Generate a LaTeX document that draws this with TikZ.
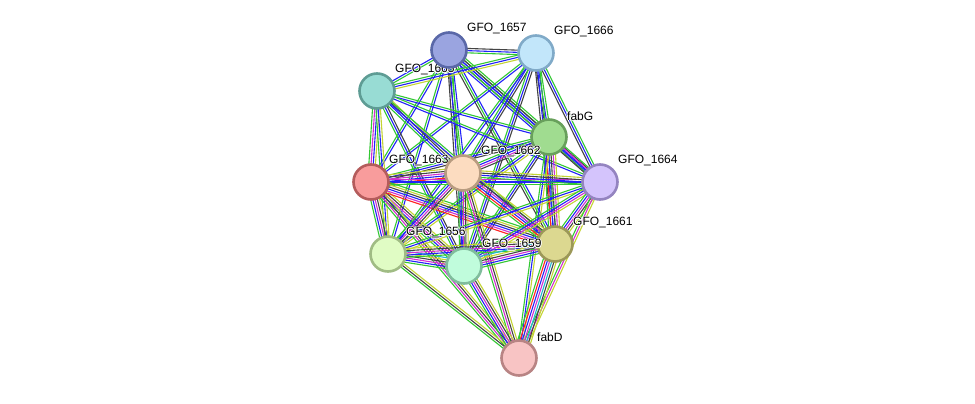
\documentclass[tikz,border=0pt]{standalone}
\usepackage{fontspec}
\setmainfont{Liberation Sans}
\usetikzlibrary{calc}

% evidence-channel colours
\definecolor{gn}{HTML}{33C833}
\definecolor{bl}{HTML}{2222F8}
\definecolor{gy}{HTML}{444444}
\definecolor{mg}{HTML}{D030D0}
\definecolor{yg}{HTML}{C4D434}
\definecolor{rd}{HTML}{FF2222}
\definecolor{cy}{HTML}{22B8D0}

\pgfdeclarelayer{bg}
\pgfdeclarelayer{edges}
\pgfsetlayers{bg,edges,main}

\tikzset{
  protein/.style={circle, minimum size=35pt, inner sep=0pt, line width=2.6pt},
  edgeline/.style={line width=1.1pt},
  lab/.style={font=\fontsize{12}{14}\selectfont, inner sep=0pt, anchor=west},
}

% a bundle of parallel coloured lines between two nodes
\newcommand\linkset[3]{%
  \xdef\nlines{0}%
  \foreach \c in {#3}{\xdef\nlines{\the\numexpr\nlines+1\relax}}%
  \foreach \c [count=\i] in {#3}{%
    \pgfmathsetmacro\off{(\i-(\nlines+1)/2)*2.2}%
    \draw[edgeline, draw=\c] ($(#1)!\off pt!90:(#2)$) -- ($(#2)!\off pt!-90:(#1)$);
  }%
}

% label with a white halo, placed above right of its node
\newcommand\haloLabel[3]{%
  \foreach \dx/\dy in {0.8/0,-0.8/0,0/0.8,0/-0.8,0.6/0.6,-0.6/0.6,0.6/-0.6,-0.6/-0.6}{%
    \node[lab, text=white] at ([shift={(18+\dx,-21+\dy)}]#1.center) {#3};
  }%
  \node[lab] (#2) at ([shift={(18,-21)}]#1.center) {#3};
}

\begin{document}
\begin{tikzpicture}[x=1pt, y=-1pt]
\begin{pgfonlayer}{bg}
\fill[white] (0,0) rectangle (975,404);
\end{pgfonlayer}
\useasboundingbox (0,0) rectangle (975,404);

% proteins, each followed by its label; later circles overlap earlier labels
\node[protein, fill={rgb,255:red,152;green,220;blue,212}, draw={rgb,255:red,94;green,156;blue,148}] (C) at (377,91) {};
\haloLabel{C}{lC}{GFO\_1665}
\node[protein, fill={rgb,255:red,248;green,156;blue,156}, draw={rgb,255:red,180;green,92;blue,92}] (E) at (371,182) {};
\haloLabel{E}{lE}{GFO\_1663}
\node[protein, fill={rgb,255:red,154;green,164;blue,224}, draw={rgb,255:red,90;green,104;blue,168}] (A) at (449,50) {};
\haloLabel{A}{lA}{GFO\_1657}
\node[protein, fill={rgb,255:red,194;green,230;blue,250}, draw={rgb,255:red,128;green,170;blue,200}] (B) at (536,53) {};
\haloLabel{B}{lB}{GFO\_1666}
\node[protein, fill={rgb,255:red,160;green,220;blue,144}, draw={rgb,255:red,104;green,160;blue,92}] (D) at (549,137) {};
\haloLabel{D}{lD}{fabG}
\node[protein, fill={rgb,255:red,252;green,220;blue,192}, draw={rgb,255:red,184;green,156;blue,128}] (F) at (463,173) {};
\haloLabel{F}{lF}{GFO\_1662}
\node[protein, fill={rgb,255:red,212;green,196;blue,252}, draw={rgb,255:red,148;green,132;blue,192}] (G) at (600,182) {};
\haloLabel{G}{lG}{GFO\_1664}
\node[protein, fill={rgb,255:red,224;green,252;blue,196}, draw={rgb,255:red,160;green,188;blue,132}] (H) at (388,254) {};
\haloLabel{H}{lH}{GFO\_1656}
\node[protein, fill={rgb,255:red,220;green,216;blue,144}, draw={rgb,255:red,156;green,152;blue,88}] (J) at (555,244) {};
\haloLabel{J}{lJ}{GFO\_1661}
\node[protein, fill={rgb,255:red,192;green,252;blue,220}, draw={rgb,255:red,128;green,188;blue,156}] (I) at (464,266) {};
\haloLabel{I}{lI}{GFO\_1659}
\node[protein, fill={rgb,255:red,248;green,196;blue,196}, draw={rgb,255:red,184;green,132;blue,132}] (K) at (519,358) {};
\haloLabel{K}{lK}{fabD}

% interaction bundles
\begin{pgfonlayer}{edges}
\linkset{A}{B}{gn,bl,gy}
\linkset{A}{C}{bl,gn}
\linkset{A}{D}{bl,gy,bl,gn,gn}
\linkset{A}{E}{gn,bl}
\linkset{A}{F}{gy,gn,bl}
\linkset{A}{G}{gn,bl,gy}
\linkset{A}{H}{gn,bl}
\linkset{A}{I}{gy,bl,gn}
\linkset{A}{J}{gy,gn,bl}
\linkset{B}{C}{gn,bl,yg}
\linkset{B}{D}{gy,bl,gn}
\linkset{B}{E}{gn,bl}
\linkset{B}{F}{gn,bl,gy}
\linkset{B}{G}{gy,bl,gn}
\linkset{B}{H}{gn,bl}
\linkset{B}{I}{gn,bl,gy}
\linkset{B}{J}{gy,bl,gn}
\linkset{C}{D}{bl,gn}
\linkset{C}{E}{gn,mg,bl,yg}
\linkset{C}{F}{gn,bl,gy,yg}
\linkset{C}{G}{bl,gn}
\linkset{C}{H}{gn,bl,yg}
\linkset{C}{I}{gn,bl,gy}
\linkset{C}{J}{bl,gn}
\linkset{D}{E}{gn,bl,gy}
\linkset{D}{F}{gn,bl,mg,gy}
\linkset{D}{G}{gy,bl,mg,gn}
\linkset{D}{H}{gn,bl,yg}
\linkset{D}{I}{gn,bl,gy}
\linkset{D}{J}{gn,rd,bl,gy,mg,yg}
\linkset{D}{K}{gn,bl,yg}
\linkset{E}{F}{gn,rd,bl,mg,gy,yg}
\linkset{E}{G}{gn,bl,mg}
\linkset{E}{H}{gn,bl,mg,gy,yg}
\linkset{E}{I}{gn,bl,mg,gy,yg}
\linkset{E}{J}{rd,mg,bl,gy,yg,gn}
\linkset{E}{K}{gn,mg,gy,yg}
\linkset{F}{G}{gn,bl,gy,yg}
\linkset{F}{H}{gn,bl,mg,gy,yg}
\linkset{F}{I}{gn,bl,mg,gy,yg}
\linkset{F}{J}{gn,rd,bl,mg,gy,yg}
\linkset{F}{K}{gn,mg,gy,yg}
\linkset{G}{H}{gn,bl,yg}
\linkset{G}{I}{gn,bl,mg,yg}
\linkset{G}{J}{gn,bl,mg,gy,yg}
\linkset{G}{K}{gn,mg,yg}
\linkset{H}{I}{gn,bl,mg,gy,yg,cy}
\linkset{H}{J}{gn,bl,mg,gy,yg}
\linkset{H}{K}{gn,gy,yg}
\linkset{I}{J}{gn,bl,mg,gy,yg,cy}
\linkset{I}{K}{gn,bl,mg,gy,yg}
\linkset{J}{K}{gn,rd,bl,mg,cy,gy,yg}
\end{pgfonlayer}
\end{tikzpicture}
\end{document}
